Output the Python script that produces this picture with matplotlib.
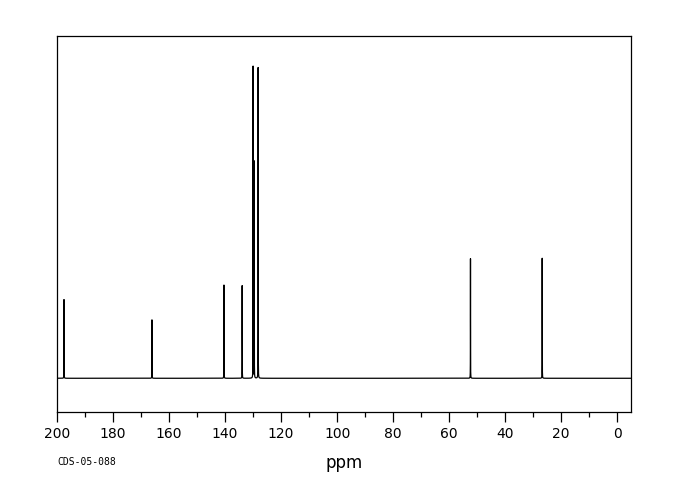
import numpy as np
import matplotlib
matplotlib.use("Agg")
import matplotlib.pyplot as plt
from matplotlib.ticker import MultipleLocator

# Peak list (ppm, relative intensity)
peak_ppm = [197.5, 166.1, 140.4, 133.9, 130.0, 129.6, 128.2, 52.4, 26.8]
peak_height = [25.2, 18.7, 30.0, 29.7, 100.0, 69.6, 99.7, 38.3, 38.6]
peak_width = 0.018  # half width at half maximum, ppm

x_ticks = [200, 180, 160, 140, 120, 100, 80, 60, 40, 20, 0]
x_label = "ppm"
sample_id = "CDS-05-088"

ppm = np.linspace(200.5, -5.5, 80000)
spec = np.zeros_like(ppm)
for p, h in zip(peak_ppm, peak_height):
    spec += h * peak_width**2 / ((ppm - p) ** 2 + peak_width**2)

fig = plt.figure(figsize=(6.8, 5.0), dpi=100)
ax = fig.add_axes([57 / 680, 88 / 500, (631 - 57) / 680, (412 - 36) / 500])
ax.plot(ppm, spec, color="black", lw=0.9)
ax.set_xlim(200, -4.9)
ax.set_ylim(-10.8, 109.6)

ax.set_yticks([])
ax.set_xticks(x_ticks)
ax.set_xticklabels([str(t) for t in x_ticks], fontsize=10, color="black")
ax.xaxis.set_minor_locator(MultipleLocator(10))
ax.tick_params(axis="x", which="major", direction="out", length=7, width=0.9, pad=4)
ax.tick_params(axis="x", which="minor", direction="out", length=3.5, width=0.9)
for s in ax.spines.values():
    s.set_linewidth(0.9)
ax.set_xlabel(x_label, fontsize=12, labelpad=9, color="black")

fig.text(57 / 680, 1 - 462 / 500, sample_id, fontsize=7,
         family="DejaVu Sans Mono", va="center", ha="left")

fig.savefig("out.png", dpi=100)
